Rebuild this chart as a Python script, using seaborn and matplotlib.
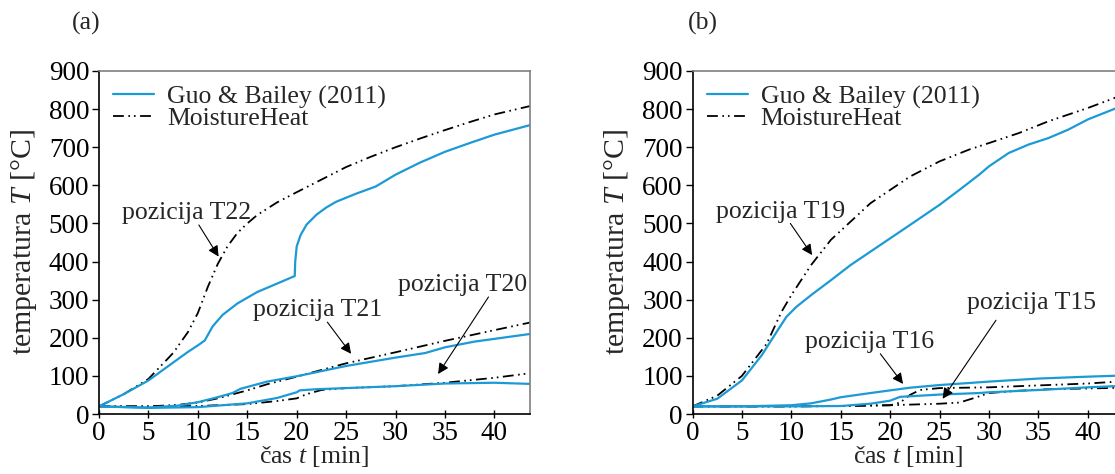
import matplotlib
matplotlib.use('Agg')
import matplotlib.pyplot as plt
from matplotlib.lines import Line2D
import seaborn as sns
import pandas as pd

# Panel (a) - positions T22, T21, T20
t22_mh_t = [0, 2.5, 5, 7.5, 9, 10, 11, 12, 13, 14, 15, 16, 18, 20, 22.5, 25, 27.5, 30, 32.5, 35, 37.5, 40, 43.6]
t22_mh_T = [20, 52, 92, 160, 215, 265, 333, 393, 440, 475, 500, 522, 555, 582, 615, 648, 675, 700, 723, 745, 766,
            786, 808]
t22_guo_t = [0, 2.5, 5, 7.5, 9, 10, 10.7, 11.5, 12.5, 14, 16, 18, 19.8, 19.85, 20, 20.4, 21, 22, 23, 24, 26, 28,
             30, 32.5, 35, 37.5, 40, 43.6]
t22_guo_T = [20, 52, 88, 135, 163, 180, 193, 230, 260, 290, 320, 342, 362, 400, 440, 470, 497, 523, 542, 557, 578, 597,
             628, 660, 688, 711, 733, 758]
t21_mh_t = [0, 5, 8, 10, 12, 15, 17, 20, 25, 30, 35, 40, 43.6]
t21_mh_T = [20, 20, 24, 30, 41, 62, 78, 98, 133, 162, 192, 220, 240]
t21_guo_t = [0, 5, 8, 10, 12, 13.5, 14.3, 17, 20, 25, 30, 33, 35, 38, 43.6]
t21_guo_T = [20, 17, 22, 31, 44, 55, 66, 85, 99, 126, 148, 160, 175, 190, 210]
t20_mh_t = [0, 5, 10, 15, 18, 20, 21, 22.5, 25, 30, 35, 40, 43.6]
t20_mh_T = [20, 20, 21, 26, 34, 41, 52, 63, 68, 73, 82, 95, 107]
t20_guo_t = [0, 5, 10, 15, 18, 20, 20.3, 22, 25, 30, 35, 40, 43.6]
t20_guo_T = [20, 16, 18, 28, 42, 57, 62, 65, 68, 73, 80, 82, 79]

# Panel (b) - positions T19, T16, T15
t19_mh_t = [0, 2.5, 5, 7.5, 9, 10, 12, 14, 16, 18, 20, 22, 25, 28, 30, 33, 36, 40, 43.6]
t19_mh_T = [20, 48, 100, 184, 268, 312, 391, 457, 505, 553, 588, 623, 663, 694, 711, 737, 768, 803, 838]
t19_guo_t = [0, 2.5, 5, 7, 8.5, 9.5, 10.5, 12, 14, 16, 18, 20, 22, 25, 27, 29, 30, 32, 34, 36, 38, 40, 43.6]
t19_guo_T = [20, 40, 88, 154, 215, 255, 281, 312, 351, 391, 426, 461, 496, 549, 588, 628, 650, 685, 707, 724, 746,
             773, 810]
t16_guo_t = [0, 5, 10, 12, 14, 15, 18, 20, 22, 25, 30, 35, 40, 43.6]
t16_guo_T = [20, 20, 23, 28, 38, 44, 55, 62, 69, 76, 85, 93, 98, 101]
t15_guo_t = [0, 10, 15, 18, 20, 21, 25, 29, 30, 35, 40, 43.6]
t15_guo_T = [20, 20, 21, 27, 35, 45, 51, 55, 57, 63, 70, 74]
t16_mh_t = [0, 10, 15, 20, 21, 22, 23, 25, 30, 35, 40, 43.6]
t16_mh_T = [20, 20, 21, 23, 30, 50, 63, 68, 70, 75, 80, 86]
t15_mh_t = [0, 10, 15, 20, 25, 27, 28.5, 30, 33, 36, 40, 43.6]
t15_mh_T = [20, 20, 21, 23, 27, 30, 42, 55, 61, 65, 67, 69]

models = ['Guo & Bailey (2011)', 'MoistureHeat']
x_ticks = list(range(0, 45, 5))
y_ticks = list(range(0, 1000, 100))

BLUE = '#1c9ad6'
DASH = (6, 2.5, 0.9, 2.2, 0.9, 2.5)
FS = 18.5


def build_frame(series):
    rows = []
    for pos, model, ts, Ts in series:
        for t, T in zip(ts, Ts):
            rows.append({'t': t, 'T': T, 'pos': pos, 'model': model})
    return pd.DataFrame(rows)


sns.set_theme(style='ticks')
plt.rcParams['font.family'] = ['Liberation Serif', 'DejaVu Serif']
plt.rcParams['mathtext.fontset'] = 'custom'
plt.rcParams['mathtext.rm'] = 'Liberation Serif'
plt.rcParams['mathtext.it'] = 'Liberation Serif:italic'

df_a = build_frame([
    ('T22', models[1], t22_mh_t, t22_mh_T), ('T22', models[0], t22_guo_t, t22_guo_T),
    ('T21', models[1], t21_mh_t, t21_mh_T), ('T21', models[0], t21_guo_t, t21_guo_T),
    ('T20', models[1], t20_mh_t, t20_mh_T), ('T20', models[0], t20_guo_t, t20_guo_T),
])
df_b = build_frame([
    ('T19', models[1], t19_mh_t, t19_mh_T), ('T19', models[0], t19_guo_t, t19_guo_T),
    ('T16', models[1], t16_mh_t, t16_mh_T), ('T16', models[0], t16_guo_t, t16_guo_T),
    ('T15', models[1], t15_mh_t, t15_mh_T), ('T15', models[0], t15_guo_t, t15_guo_T),
])

fig = plt.figure(figsize=(11.15, 4.74), dpi=100)
ax_a = fig.add_axes([99 / 1115, 60 / 474, 431 / 1115, 343 / 474])
ax_b = fig.add_axes([692.5 / 1115, 60 / 474, 431 / 1115, 343 / 474])

palette = {models[0]: BLUE, models[1]: 'black'}
dashes = {models[0]: '', models[1]: DASH}

for ax, df in [(ax_a, df_a), (ax_b, df_b)]:
    for model, lw in [(models[1], 1.3), (models[0], 1.6)]:
        sub = df[df['model'] == model]
        sns.lineplot(data=sub, x='t', y='T', units='pos', estimator=None, hue='model', style='model',
                     palette=palette, dashes=dashes, linewidth=lw, legend=False, ax=ax, sort=True)
    ax.set_xlim(0, 43.6)
    ax.set_ylim(0, 900)
    ax.set_xticks(x_ticks)
    ax.set_yticks(y_ticks)
    ax.tick_params(axis='both', labelsize=19.5, colors='black', pad=2)
    ax.tick_params(axis='x', direction='inout', length=6, width=1)
    ax.tick_params(axis='y', direction='out', length=5, width=1)
    for side in ['top', 'right']:
        ax.spines[side].set_color('#7f7f7f')
        ax.spines[side].set_linewidth(1.2)
    for side in ['left', 'bottom']:
        ax.spines[side].set_color('black')
        ax.spines[side].set_linewidth(1.2)
    ax.set_xlabel('čas $t$ [min]', fontsize=FS)
    ax.set_ylabel('temperatura $T$ [°C]', fontsize=21.5)
    ax.xaxis.set_label_coords(0.5, -0.088)
    ax.yaxis.set_label_coords(-0.14, 0.5)
    handles = [Line2D([], [], color=BLUE, lw=1.6),
               Line2D([], [], color='black', lw=1.3, dashes=DASH)]
    ax.legend(handles, models, loc='upper left', frameon=False, fontsize=FS, handlelength=1.6,
              handletextpad=0.5, labelspacing=-0.05, borderaxespad=0.15, bbox_to_anchor=(0.0, 1.0))

arrow = dict(arrowstyle='-|>', color='black', lw=0.8, mutation_scale=16, shrinkA=0, shrinkB=0)

# panel (a) labels
ax_a.text(2.35, 527, 'pozicija T22', fontsize=FS, va='center', ha='left')
ax_a.annotate('', xy=(12.1, 413), xytext=(10.1, 496), arrowprops=arrow)
ax_a.text(15.6, 272, 'pozicija T21', fontsize=FS, va='center', ha='left')
ax_a.annotate('', xy=(25.5, 158), xytext=(23.1, 241), arrowprops=arrow)
ax_a.text(30.2, 338, 'pozicija T20', fontsize=FS, va='center', ha='left')
ax_a.annotate('', xy=(34.3, 105), xytext=(39.4, 307), arrowprops=arrow)

# panel (b) labels
ax_b.text(2.35, 531, 'pozicija T19', fontsize=FS, va='center', ha='left')
ax_b.annotate('', xy=(12.1, 417), xytext=(9.9, 500), arrowprops=arrow)
ax_b.text(11.4, 190, 'pozicija T16', fontsize=FS, va='center', ha='left')
ax_b.annotate('', xy=(21.3, 79), xytext=(19.0, 158), arrowprops=arrow)
ax_b.text(27.8, 290, 'pozicija T15', fontsize=FS, va='center', ha='left')
ax_b.annotate('', xy=(25.3, 40), xytext=(30.7, 246), arrowprops=arrow)

fig.text(86 / 1115, 1 - 23 / 474, '(a)', fontsize=FS, ha='center', va='center')
fig.text(703 / 1115, 1 - 23 / 474, '(b)', fontsize=FS, ha='center', va='center')

fig.savefig('out.png', dpi=100)
